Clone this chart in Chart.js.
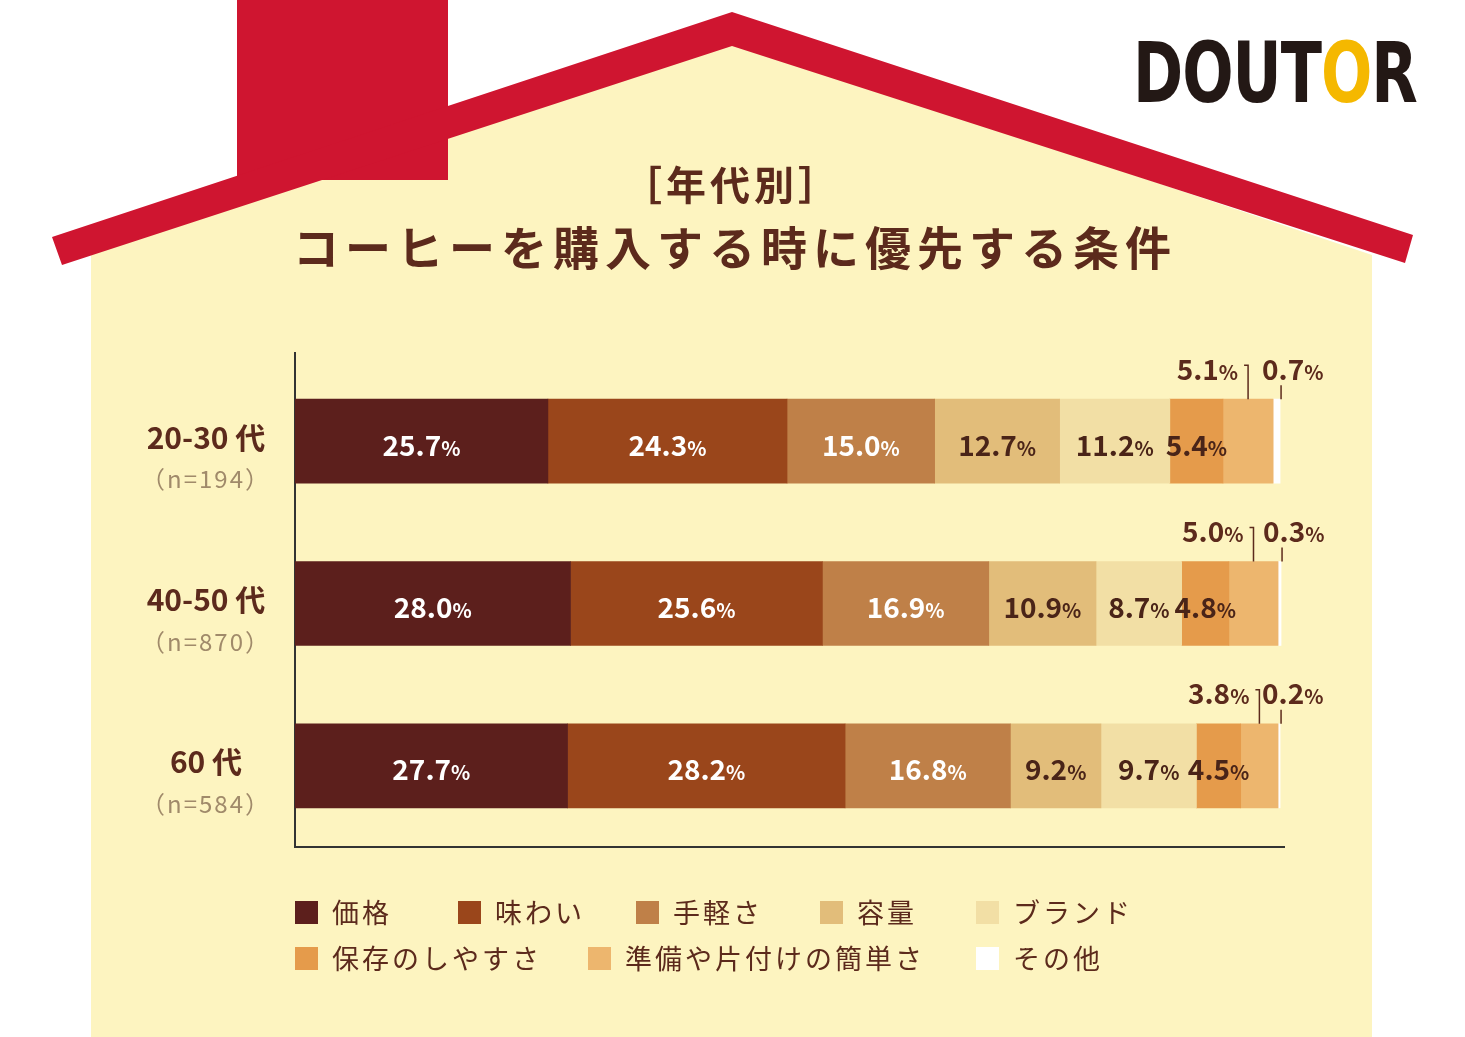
<!DOCTYPE html>
<html><head><meta charset="utf-8">
<script src="https://cdn.jsdelivr.net/npm/chart.js@4"></script>
<style>html,body{margin:0;padding:0;background:#fff}#c{display:block}</style>
</head><body>
<div style="width:1465px;height:1037px"><canvas id="c"></canvas></div>
<script>
let groups = ['20-30 代', '40-50 代', '60 代'];
let sampleSizes = ['（n=194）', '（n=870）', '（n=584）'];
let factors = ['価格', '味わい', '手軽さ', '容量', 'ブランド', '保存のしやすさ', '準備や片付けの簡単さ', 'その他'];
let colour = ['#5c1f1c', '#9a461b', '#bf8048', '#e2bd7a', '#f2dfa5', '#e59b4b', '#edb66e', '#ffffff'];
let textColour = ['#fff', '#fff', '#fff', '#4a2418', '#4a2418', '#4a2418', '#4a2418', '#4a2418'];

// one array per factor, values for 20-30 / 40-50 / 60
let price = [25.7, 28.0, 27.7];
let taste = [24.3, 25.6, 28.2];
let easy = [15.0, 16.9, 16.8];
let volume = [12.7, 10.9, 9.2];
let brand = [11.2, 8.7, 9.7];
let storage = [5.4, 4.8, 4.5];
let prep = [5.1, 5.0, 3.8];
let other = [0.7, 0.3, 0.2];
let series = [price, taste, easy, volume, brand, storage, prep, other];

const FONT = '"Noto Sans CJK JP", "Noto Sans", sans-serif';
const DARK = '#5c2a1c';

const housePlugin = {
    id: 'house',
    beforeDraw(chart) {
        let c = chart.ctx;
        c.save();
        c.fillStyle = '#fdf4c0';
        c.beginPath();
        c.moveTo(91, 255); c.lineTo(732, 40); c.lineTo(1372, 255);
        c.lineTo(1372, 1037); c.lineTo(91, 1037); c.closePath(); c.fill();
        c.fillStyle = '#cf1530';
        c.fillRect(237, 0, 211, 180);
        c.beginPath();
        c.moveTo(52, 237); c.lineTo(732, 12); c.lineTo(1413, 235);
        c.lineTo(1405, 263); c.lineTo(732, 46); c.lineTo(62, 265); c.closePath(); c.fill();

        // logo
        c.font = 'bold 84px "DejaVu Sans Condensed", sans-serif';
        c.textBaseline = 'middle';
        let x = 1133;
        'DOUTOR'.split('').forEach((ch, i) => {
            c.fillStyle = i === 4 ? '#f5b800' : '#231815';
            c.save(); c.translate(x, 80); c.scale(0.8, 1.0);
            c.fillText(ch, 0, 0);
            let w = c.measureText(ch).width;
            c.restore();
            x += w * 0.8 - 1;
        });

        // title
        c.fillStyle = DARK;
        c.textAlign = 'center';
        c.letterSpacing = '4px';
        c.font = 'bold 40px ' + FONT;
        c.fillText('［年代別］', 732, 185);
        c.letterSpacing = '6px';
        c.font = 'bold 46px ' + FONT;
        c.fillText('コーヒーを購入する時に優先する条件', 735, 248);
        c.letterSpacing = '0px';
        c.restore();
    },
    afterDraw(chart) {
        let c = chart.ctx;
        c.save();
        c.textBaseline = 'middle';
        let yScale = chart.scales.y;

        // category labels
        groups.forEach((g, i) => {
            let y = yScale.getPixelForValue(i);
            c.textAlign = 'center';
            c.fillStyle = DARK;
            c.font = 'bold 30px ' + FONT;
            c.fillText(g, 206, y - 4);
            c.fillStyle = '#a08a6a';
            c.letterSpacing = '2px';
            c.font = '24px ' + FONT;
            c.fillText(sampleSizes[i], 206, y + 38);
            c.letterSpacing = '0px';
        });

        // value labels
        function pctText(val, cx, cy, col, align) {
            let big = val.toFixed(1), small = '%';
            c.font = 'bold 28px ' + FONT;
            let w1 = c.measureText(big).width;
            c.font = 'bold 20px ' + FONT;
            let w2 = c.measureText(small).width;
            let x0 = align === 'right' ? cx - w1 - w2 : align === 'left' ? cx : cx - (w1 + w2) / 2;
            c.textAlign = 'left';
            c.fillStyle = col;
            c.font = 'bold 28px ' + FONT;
            c.fillText(big, x0, cy);
            c.font = 'bold 20px ' + FONT;
            c.fillText(small, x0 + w1, cy + 3);
        }
        series.forEach((vals, s) => {
            let meta = chart.getDatasetMeta(s);
            meta.data.forEach((bar, i) => {
                let right = bar.x;
                let cx = (bar.base + right) / 2;
                let top = bar.y - bar.height / 2;
                if (s < 6) {
                    pctText(vals[i], cx, bar.y + 4, textColour[s], 'center');
                } else {
                    c.strokeStyle = DARK; c.lineWidth = 1.5;
                    c.beginPath();
                    let ty = top - 30;
                    if (s === 6) {
                        c.moveTo(cx - 4, ty - 4); c.lineTo(cx, ty - 4); c.lineTo(cx, top);
                        c.stroke();
                        pctText(vals[i], cx - 10, ty, DARK, 'right');
                    } else {
                        c.moveTo(right + 1, ty + 16); c.lineTo(right + 1, top);
                        c.stroke();
                        pctText(vals[i], right - 18, ty, DARK, 'left');
                    }
                }
            });
        });

        // legend
        let cols = [295, 458, 636, 820, 976];
        let cols2 = [295, 588, 976];
        factors.forEach((f, i) => {
            let x = i < 5 ? cols[i] : cols2[i - 5], y = i < 5 ? 912 : 958;
            c.fillStyle = colour[i];
            c.fillRect(x, y - 11, 23, 23);
            c.fillStyle = DARK;
            c.letterSpacing = '3px';
            c.font = '27px ' + FONT;
            c.textAlign = 'left';
            c.fillText(f, x + 37, y + 1);
            c.letterSpacing = '0px';
        });
        c.restore();
    }
};

new Chart(document.getElementById('c'), {
    type: 'bar',
    data: {
        labels: groups,
        datasets: series.map((vals, i) => ({
            label: factors[i],
            data: vals,
            backgroundColor: colour[i],
            borderWidth: 0,
            barThickness: 84
        }))
    },
    options: {
        indexAxis: 'y',
        responsive: true,
        maintainAspectRatio: false,
        animation: false,
        layout: { padding: { left: 287, right: 181, top: 360, bottom: 182 } },
        plugins: { legend: { display: false }, tooltip: { enabled: false } },
        scales: {
            x: {
                stacked: true, min: 0, max: 100.5,
                grid: { display: false },
                ticks: { display: false },
                border: { display: true, color: '#333', width: 2 }
            },
            y: {
                stacked: true,
                grid: { display: false },
                ticks: { display: false },
                border: { display: true, color: '#333', width: 2 }
            }
        }
    },
    plugins: [housePlugin, {
        id: 'axisTop',
        afterDraw(chart) {
            // extend the y axis line up to where the reference starts it
            let c = chart.ctx, a = chart.chartArea;
            c.save(); c.strokeStyle = '#333'; c.lineWidth = 2;
            c.beginPath(); c.moveTo(a.left, a.top); c.lineTo(a.left, 352); c.stroke();
            c.restore();
        }
    }]
});
</script>
</body></html>
